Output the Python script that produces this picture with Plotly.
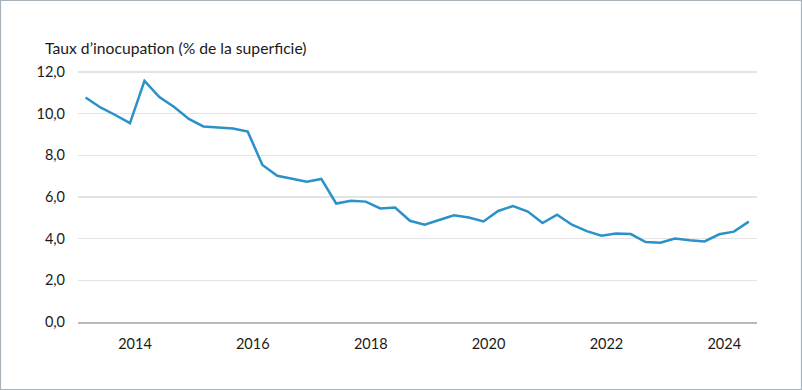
import plotly.graph_objects as go

# Quarterly observations (Q1 2013 – Q2 2024)
dates = [f"{y}-{m:02d}-01" for y in range(2013, 2025) for m in (3, 6, 9, 12)][:46]
vacancy_rate = [
    10.78, 10.30, 9.94, 9.55,
    11.58, 10.80, 10.32, 9.75,
    9.39, 9.34, 9.29, 9.14,
    7.54, 7.02, 6.88, 6.74,
    6.87, 5.69, 5.82, 5.78,
    5.45, 5.50, 4.86, 4.67,
    4.90, 5.12, 5.02, 4.83,
    5.33, 5.57, 5.30, 4.75,
    5.15, 4.67, 4.36, 4.14,
    4.25, 4.22, 3.84, 3.81,
    4.01, 3.92, 3.87, 4.21,
    4.34, 4.82,
]
x_tick_vals = ["2014-01-01", "2016-01-01", "2018-01-01", "2020-01-01", "2022-01-01", "2024-01-01"]
x_tick_text = ["2014", "2016", "2018", "2020", "2022", "2024"]
y_tick_vals = [0, 2, 4, 6, 8, 10, 12]
y_tick_text = ["0,0", "2,0", "4,0", "6,0", "8,0", "10,0", "12,0"]
title_text = "Taux d’inocupation (% de la superficie)"

W, H = 802, 390
ML, MR, MT, MB = 78, 45, 70, 68
PW, PH = W - ML - MR, H - MT - MB

FONT = "Lato"

fig = go.Figure()
fig.add_trace(go.Scatter(
    x=dates, y=vacancy_rate, mode="lines",
    line=dict(color="#2b91c8", width=2.5),
    hoverinfo="skip", showlegend=False,
))

fig.update_layout(
    width=W, height=H,
    margin=dict(l=ML, r=MR, t=MT, b=MB, pad=0),
    paper_bgcolor="white", plot_bgcolor="white",
    font=dict(family=FONT, size=14, color="#1a1a1a"),
    xaxis=dict(
        range=["2013-01-13", "2024-07-22"],
        tickvals=x_tick_vals, ticktext=x_tick_text,
        showgrid=False, zeroline=False,
        showline=True, linecolor="#b4bac0", linewidth=2,
        ticks="", ticklabelstandoff=8,
        tickfont=dict(family=FONT, size=14.5, color="#1a1a1a"),
    ),
    yaxis=dict(
        range=[0, 12.1],
        tickvals=y_tick_vals, ticktext=y_tick_text,
        showgrid=True, gridcolor="#e4e4e4", gridwidth=1.2,
        zeroline=False, showline=False,
        ticks="", ticklabelstandoff=12,
        tickfont=dict(family=FONT, size=14.5, color="#1a1a1a"),
    ),
    annotations=[dict(
        text=title_text, xref="paper", yref="paper",
        x=(43 - ML) / PW, y=1 + (MT - 48) / PH,
        xanchor="left", yanchor="middle", showarrow=False,
        font=dict(family=FONT, size=15.7, color="#1a1a1a"),
    )],
    shapes=[dict(
        type="rect", xref="paper", yref="paper",
        x0=(0.5 - ML) / PW, x1=(W - 0.5 - ML) / PW,
        y0=-(MB - 0.5) / PH, y1=1 + (MT - 0.5) / PH,
        line=dict(color="#a9b1b9", width=1.2), layer="above",
    )],
)

fig.write_html(
    "out.html",
    config={"displayModeBar": False, "staticPlot": True},
    post_script="document.body.style.margin='0';document.body.style.overflow='hidden';",
)
